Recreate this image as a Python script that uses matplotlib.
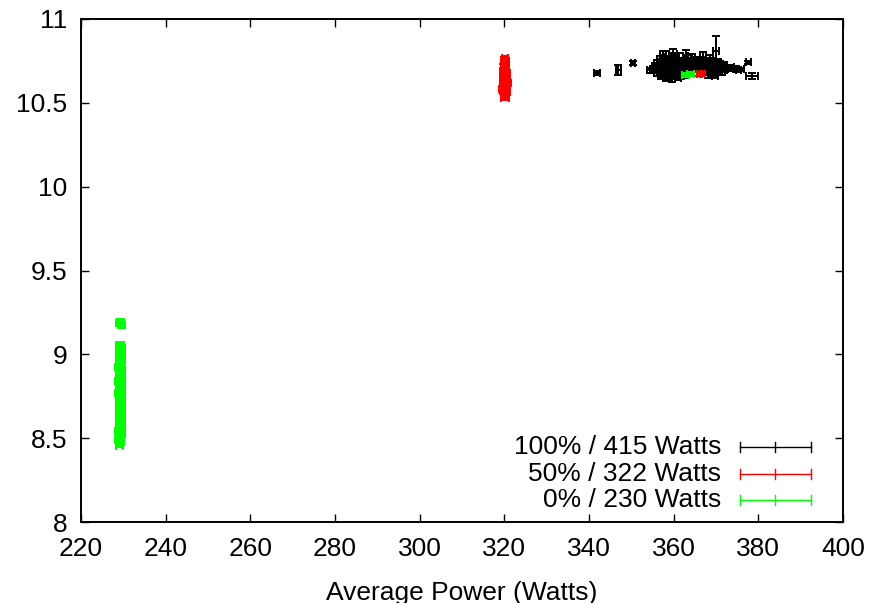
import matplotlib
matplotlib.use("Agg")
import matplotlib.pyplot as plt

plt.rcParams['font.family'] = ['Liberation Sans', 'DejaVu Sans']

# ---------------- data ----------------
series_labels = ["100% / 415 Watts", "50% / 322 Watts", "0% / 230 Watts"]
series_colors = ["#000000", "#ff0000", "#00ff00"]

# 100% load (black)
x100 = [341.9, 346.9, 350.4, 354.4, 378.5, 377.6, 369.9,
        357.5, 358.3, 359.8, 361.3, 362.8, 364.3, 366.9, 368.5,
        356.8, 358.6, 360.1, 362.0, 363.2, 365.5, 367.2, 368.8, 370.4,
        356.2, 357.4, 359.0, 360.6, 361.8, 363.7, 365.0, 366.4, 367.9, 369.3, 370.9, 372.0,
        355.9, 357.0, 358.3, 359.6, 361.1, 362.5, 364.0, 365.7, 367.0, 368.4, 369.8, 371.3, 372.6, 373.5,
        355.3, 356.6, 358.0, 359.3, 360.7, 362.2, 363.5, 365.0, 366.6, 368.0, 369.3, 370.7, 372.0, 373.6,
        356.0, 357.5, 359.0, 360.4, 361.8, 367.6, 368.9, 370.2, 371.5,
        357.1, 358.6, 360.0, 361.5, 362.9, 368.3, 369.7,
        358.2, 359.5, 361.0,
        374.5, 375.3, 376.0]
y100 = [10.677, 10.695, 10.737, 10.695, 10.660, 10.742, 10.810,
        10.785, 10.775, 10.790, 10.770, 10.782, 10.768, 10.775, 10.760,
        10.760, 10.752, 10.765, 10.748, 10.758, 10.755, 10.742, 10.750, 10.738,
        10.738, 10.742, 10.730, 10.745, 10.735, 10.740, 10.728, 10.736, 10.732, 10.740, 10.728, 10.722,
        10.718, 10.712, 10.725, 10.716, 10.722, 10.712, 10.720, 10.715, 10.718, 10.712, 10.720, 10.714, 10.708, 10.712,
        10.700, 10.695, 10.705, 10.692, 10.700, 10.706, 10.698, 10.702, 10.695, 10.704, 10.698, 10.700, 10.696, 10.704,
        10.680, 10.676, 10.684, 10.672, 10.680, 10.684, 10.678, 10.686, 10.682,
        10.662, 10.658, 10.664, 10.660, 10.668, 10.666, 10.662,
        10.648, 10.642, 10.650,
        10.702, 10.696, 10.700]
xe100 = [0.7, 0.6, 0.5, 0.6, 1.4, 0.6, 0.7,
         0.8, 0.7, 0.9, 0.8, 0.7, 0.8, 0.7, 0.8,
         0.7, 0.9, 0.8, 0.7, 0.8, 0.7, 0.9, 0.8, 0.7,
         0.8, 0.7, 0.8, 0.9, 0.7, 0.8, 0.7, 0.8, 0.9, 0.7, 0.8, 0.7,
         0.9, 0.8, 0.7, 0.8, 0.9, 0.7, 0.8, 0.7, 0.8, 0.9, 0.7, 0.8, 0.7, 0.8,
         0.8, 0.9, 0.7, 0.8, 0.7, 0.8, 0.9, 0.7, 0.8, 0.7, 0.8, 0.9, 0.7, 0.8,
         0.7, 0.8, 0.9, 0.7, 0.8, 0.7, 0.8, 0.9, 0.7,
         0.8, 0.7, 0.8, 0.9, 0.7, 0.8, 0.7,
         0.8, 0.7, 0.8,
         0.5, 0.5, 0.5]
ye100 = [0.012, 0.030, 0.012, 0.015, 0.018, 0.010, 0.090,
         0.025, 0.035, 0.030, 0.025, 0.035, 0.025, 0.030, 0.025,
         0.020, 0.025, 0.030, 0.020, 0.025, 0.020, 0.025, 0.020, 0.025,
         0.020, 0.025, 0.020, 0.025, 0.020, 0.025, 0.020, 0.025, 0.020, 0.020, 0.020, 0.020,
         0.020, 0.020, 0.025, 0.020, 0.020, 0.025, 0.020, 0.020, 0.020, 0.025, 0.020, 0.020, 0.015, 0.015,
         0.020, 0.020, 0.020, 0.025, 0.020, 0.020, 0.020, 0.020, 0.025, 0.020, 0.020, 0.020, 0.015, 0.015,
         0.020, 0.020, 0.020, 0.020, 0.020, 0.020, 0.020, 0.020, 0.015,
         0.020, 0.020, 0.020, 0.020, 0.020, 0.020, 0.015,
         0.015, 0.015, 0.015,
         0.010, 0.010, 0.010]

# 50% load (red)
x50 = [320.2, 320.0, 320.4, 319.9, 320.3, 320.1, 320.5, 319.8, 320.2, 320.4,
       320.0, 319.7, 320.3, 320.6, 319.9, 320.1, 320.5, 319.6, 320.2, 320.4,
       319.8, 320.0, 320.6, 319.7, 320.3, 319.9, 320.1, 320.5, 319.6, 320.2,
       319.8, 320.4, 320.0, 320.3, 319.9, 320.1,
       366.0, 366.8]
y50 = [10.765, 10.755, 10.748, 10.740, 10.732, 10.725, 10.718, 10.712, 10.705, 10.698,
       10.690, 10.684, 10.678, 10.672, 10.665, 10.660, 10.654, 10.648, 10.642, 10.636,
       10.630, 10.624, 10.618, 10.612, 10.606, 10.600, 10.594, 10.588, 10.582, 10.576,
       10.570, 10.563, 10.556, 10.548, 10.540, 10.530,
       10.672, 10.670]
xe50 = [0.7, 0.6, 0.7, 0.6, 0.7, 0.6, 0.7, 0.6, 0.7, 0.6,
        0.8, 0.7, 0.8, 0.8, 0.7, 0.8, 0.8, 0.7, 0.8, 0.7,
        0.9, 0.8, 0.9, 0.8, 0.9, 0.8, 0.9, 0.9, 0.8, 0.9,
        0.8, 0.9, 0.8, 0.9, 0.8, 0.9,
        0.6, 0.6]
ye50 = [0.015, 0.020, 0.018, 0.020, 0.018, 0.020, 0.018, 0.020, 0.018, 0.020,
        0.020, 0.022, 0.020, 0.022, 0.020, 0.022, 0.020, 0.022, 0.020, 0.022,
        0.020, 0.022, 0.020, 0.022, 0.020, 0.022, 0.020, 0.022, 0.020, 0.022,
        0.020, 0.020, 0.018, 0.018, 0.015, 0.015,
        0.012, 0.012]

# 0% load (green)
x0 = [229.3, 229.0, 229.5,
      229.2, 229.4, 229.0, 229.6, 229.3, 229.1, 229.5, 229.2, 229.4, 229.0,
      229.6, 229.3, 229.1, 229.5, 229.2, 229.4, 229.0, 229.3, 229.5, 229.1,
      229.2, 229.4, 229.0, 229.6, 229.3, 229.1, 229.5, 229.2, 229.4, 229.0,
      229.3, 229.5, 229.1, 229.2, 229.4, 229.0, 229.6, 229.3, 229.1, 229.5,
      229.2, 229.4, 229.0, 229.3, 229.5, 229.1, 229.2, 229.4, 229.0, 229.3,
      229.2, 229.0, 229.3, 229.1,
      362.8, 364.0]
y0 = [9.195, 9.185, 9.175,
      9.055, 9.040, 9.025, 9.010, 8.995, 8.980, 8.965, 8.950, 8.938, 8.925,
      8.912, 8.900, 8.888, 8.876, 8.864, 8.852, 8.840, 8.828, 8.816, 8.804,
      8.792, 8.780, 8.768, 8.756, 8.744, 8.732, 8.720, 8.708, 8.696, 8.684,
      8.672, 8.660, 8.648, 8.636, 8.624, 8.612, 8.600, 8.590, 8.580, 8.570,
      8.560, 8.550, 8.540, 8.530, 8.522, 8.514, 8.506, 8.498, 8.490, 8.482,
      8.470, 8.462, 8.478, 8.455,
      10.668, 10.672]
xe0 = [0.8, 0.8, 0.8,
       0.9, 0.9, 0.8, 0.9, 0.9, 0.8, 1.0, 0.9, 0.8, 0.9,
       0.9, 0.8, 0.9, 0.9, 0.8, 1.0, 0.9, 0.8, 0.9, 0.9,
       0.8, 0.9, 0.9, 0.8, 0.9, 0.9, 0.8, 0.9, 1.0, 0.8,
       0.9, 0.9, 0.8, 0.9, 0.9, 0.8, 0.9, 0.9, 0.8, 0.9,
       0.9, 0.8, 0.9, 0.9, 0.8, 0.9, 0.9, 0.8, 0.9, 0.9,
       0.8, 0.8, 0.8, 0.8,
       0.8, 0.8]
ye0 = [0.015, 0.015, 0.015,
       0.020, 0.020, 0.018, 0.020, 0.020, 0.018, 0.020, 0.020, 0.018, 0.020,
       0.020, 0.018, 0.020, 0.020, 0.018, 0.020, 0.020, 0.018, 0.020, 0.020,
       0.018, 0.020, 0.020, 0.018, 0.020, 0.020, 0.018, 0.020, 0.020, 0.018,
       0.020, 0.020, 0.018, 0.020, 0.020, 0.018, 0.020, 0.020, 0.018, 0.020,
       0.020, 0.018, 0.020, 0.020, 0.018, 0.020, 0.020, 0.018, 0.020, 0.020,
       0.010, 0.010, 0.010, 0.010,
       0.012, 0.012]

x_ticks = [220, 240, 260, 280, 300, 320, 340, 360, 380, 400]
y_ticks = [8, 8.5, 9, 9.5, 10, 10.5, 11]
y_tick_labels = ["8", "8.5", "9", "9.5", "10", "10.5", "11"]

# ---------------- figure ----------------
FS = 19
fig = plt.figure(figsize=(8.70, 6.03), dpi=100)
ax = fig.add_axes([81/870, 1 - 522/603, (843-81)/870, (522-19)/603])

series = [(x100, y100, xe100, ye100), (x50, y50, xe50, ye50), (x0, y0, xe0, ye0)]
for (xs, ys, xe, ye), col in zip(series, series_colors):
    ax.errorbar(xs, ys, xerr=xe, yerr=ye, fmt='none', ecolor=col,
                elinewidth=1.4, capsize=3, capthick=1.4)

ax.set_xlim(220, 400)
ax.set_ylim(8, 11)
ax.set_xticks(x_ticks)
ax.set_yticks(y_ticks)
ax.set_yticklabels(y_tick_labels)
ax.tick_params(direction='in', length=6, width=1, top=True, right=True,
               labelsize=FS)
ax.tick_params(axis='x', pad=11)
ax.tick_params(axis='y', pad=10)
for s in ax.spines.values():
    s.set_linewidth(1.4)
ax.set_xlabel("Average Power (Watts)", fontsize=FS, labelpad=14)

# legend (gnuplot style, text right-aligned then sample)
legend_y = [447, 474, 500]
for lab, col, py in zip(series_labels, series_colors, legend_y):
    yy = 1 - (py - 19) / (522 - 19)
    x1 = (740 - 81) / (843 - 81)
    x2 = (811 - 81) / (843 - 81)
    xm = (x1 + x2) / 2
    ax.text((721 - 81) / (843 - 81), yy, lab, transform=ax.transAxes,
            ha='right', va='center', fontsize=FS)
    ax.plot([x1, x2], [yy, yy], color=col, lw=1, transform=ax.transAxes,
            clip_on=False)
    for xx in (x1, xm, x2):
        ax.plot([xx, xx], [yy - 0.009, yy + 0.009], color=col, lw=1,
                transform=ax.transAxes, clip_on=False)

fig.savefig("out.png", dpi=100)
